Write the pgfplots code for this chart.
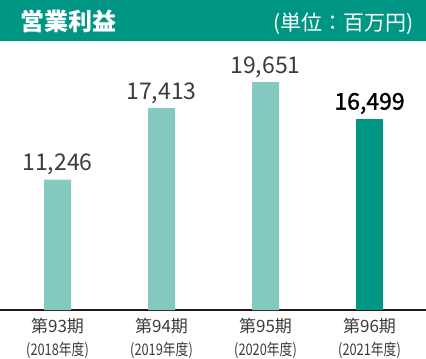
\documentclass[border=0pt]{standalone}
\usepackage{pgfplots}
\pgfplotsset{compat=1.18}
\usepackage{fontspec}
\setmainfont{Noto Sans CJK JP}
\newfontfamily\semib[FakeBold=1.3]{Noto Sans CJK JP}
\usepackage{graphicx}
\definecolor{teal1}{HTML}{009684}
\definecolor{teal2}{HTML}{85CAC0}
\definecolor{txt}{HTML}{3E3A39}
\definecolor{txtd}{HTML}{231815}
\newcommand{\xl}[2]{第#1期\\\scalebox{0.8}[1]{\fontsize{16bp}{23bp}\selectfont(#2年度)}}
\begin{document}
\begin{tikzpicture}[x=1bp,y=1bp]
\fill[teal1] (0,318) rectangle (426,359);
\node[anchor=base west,inner sep=0,text=white,font={\fontsize{24bp}{28bp}\selectfont\bfseries}] at (20,328.5) {営業利益};
\node[anchor=base east,inner sep=0,text=white,font={\fontsize{21bp}{25bp}\selectfont}] at (414,328.5) {(単位：百万円)};
\begin{axis}[
  at={(0,49bp)}, anchor=south west,
  scale only axis, width=426bp, height=269bp,
  xmin=-0.553, xmax=3.543, ymin=0, ymax=23190,
  axis x line*=bottom, axis y line=none,
  x axis line style={line width=2.3bp, color=txtd},
  ytick=\empty,
  xtick={0,1,2,3},
  xticklabels={{\xl{93}{2018}},{\xl{94}{2019}},{\xl{95}{2020}},{\xl{96}{2021}}},
  major tick length=0pt,
  xticklabel style={align=center, anchor=north, inner sep=0pt, yshift=-8bp, text=txt,
    font={\fontsize{17bp}{23bp}\selectfont}},
  ybar, bar width=27bp, bar shift=0pt,
  clip=false,
  /pgf/number format/.cd, 1000 sep={,}, assume math mode=true,
]
\addplot[fill=teal2, draw=none,
  nodes near coords,
  every node near coord/.append style={anchor=base, yshift=9bp, inner sep=0pt, text=txt,
    font={\fontsize{23bp}{27bp}\selectfont}}]
  coordinates {(0,11246) (1,17413) (2,19651)};
\addplot[fill=teal1, draw=none,
  nodes near coords,
  every node near coord/.append style={anchor=base, yshift=9bp, inner sep=0pt, text=black,
    font={\fontsize{23bp}{27bp}\semib}}]
  coordinates {(3,16499)};
\end{axis}
\pgfresetboundingbox
\useasboundingbox (0,0) rectangle (426,359);
\end{tikzpicture}
\end{document}
